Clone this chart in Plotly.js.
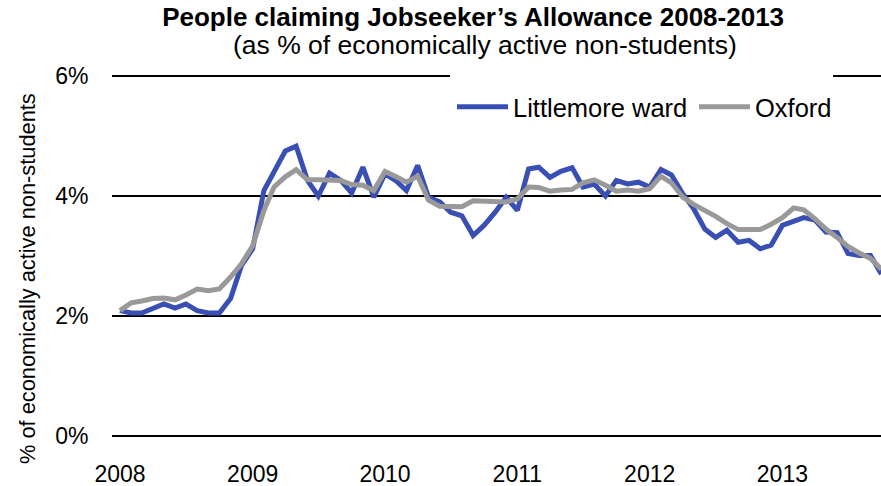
<!DOCTYPE html>
<html>
<head>
<meta charset="utf-8">
<script src="https://cdn.plot.ly/plotly-3.0.1.min.js"></script>
<style>html,body{margin:0;padding:0;background:#fff;}#chart{width:881px;height:486px;}</style>
</head>
<body>
<div id="chart"></div>
<script>
// Monthly series, January 2008 to October 2013
var startYear = 2008;
var monthCount = 70;
var months = [];
for (var i = 0; i < monthCount; i++) {
  var y = startYear + Math.floor(i / 12);
  var m = (i % 12) + 1;
  months.push(y + '-' + (m < 10 ? '0' + m : m) + '-01');
}

var littlemore = [
  2.09, 2.05, 2.05, 2.12, 2.20, 2.13, 2.20, 2.09, 2.05, 2.05, 2.29, 2.84,
  3.12, 4.09, 4.40, 4.75, 4.83, 4.26, 4.00, 4.38, 4.26, 4.05, 4.48, 3.98,
  4.37, 4.25, 4.09, 4.51, 3.98, 3.90, 3.73, 3.67, 3.34, 3.51, 3.73, 3.98,
  3.76, 4.45, 4.48, 4.31, 4.41, 4.47, 4.15, 4.20, 4.00, 4.26, 4.20, 4.23,
  4.15, 4.44, 4.35, 4.04, 3.79, 3.45, 3.31, 3.43, 3.23, 3.26, 3.12, 3.18,
  3.51, 3.57, 3.64, 3.60, 3.40, 3.39, 3.04, 3.01, 3.01, 2.70
];

var oxford = [
  2.09, 2.22, 2.25, 2.29, 2.30, 2.27, 2.35, 2.45, 2.42, 2.45, 2.65, 2.87,
  3.17, 3.76, 4.15, 4.32, 4.44, 4.27, 4.27, 4.27, 4.26, 4.19, 4.18, 4.09,
  4.41, 4.32, 4.23, 4.33, 3.93, 3.83, 3.82, 3.82, 3.92, 3.92, 3.92, 3.90,
  3.95, 4.15, 4.14, 4.08, 4.10, 4.11, 4.22, 4.27, 4.18, 4.08, 4.10, 4.08,
  4.12, 4.33, 4.22, 3.98, 3.86, 3.77, 3.66, 3.54, 3.44, 3.44, 3.44, 3.53,
  3.64, 3.80, 3.77, 3.62, 3.45, 3.31, 3.16, 3.05, 2.96, 2.78
];

var seriesNames = ['Littlemore ward', 'Oxford'];
var yTicks = [0, 2, 4, 6];
var yTickText = ['0%', '2%', '4%', '6%'];

var FONT = 'Liberation Sans, Arial, Helvetica, sans-serif';

var traces = [
  {
    x: months, y: littlemore, name: seriesNames[0], type: 'scatter', mode: 'lines',
    line: {color: '#3A4FB4', width: 5}, legend: 'legend'
  },
  {
    x: months, y: oxford, name: seriesNames[1], type: 'scatter', mode: 'lines',
    line: {color: '#999999', width: 5}, legend: 'legend2'
  }
];

var legendFont = {family: FONT, size: 25.5, color: '#000000'};

// plot area: 0% at y=436px, 6% at y=76px (60 px per percent)
var layout = {
  width: 881, height: 486,
  margin: {l: 112, r: 0, t: 74, b: 48, pad: 0},
  paper_bgcolor: '#ffffff', plot_bgcolor: '#ffffff',
  font: {family: FONT, color: '#000000'},
  showlegend: true,
  title: {
    text: '<b>People claiming Jobseeker\u2019s Allowance 2008-2013</b>',
    font: {family: FONT, size: 26, color: '#000000'},
    x: 0.537, xref: 'container', xanchor: 'center',
    y: 0.984, yref: 'container', yanchor: 'top'
  },
  annotations: [
    {
      text: '(as % of economically active non-students)',
      xref: 'paper', yref: 'paper', x: 0.4847, y: 1.0783,
      xanchor: 'center', yanchor: 'middle', showarrow: false,
      font: {family: FONT, size: 26.5, color: '#000000'}
    },
    {
      text: '% of economically active non-students',
      xref: 'paper', yref: 'paper', x: -0.1105, y: 0.4368,
      xanchor: 'center', yanchor: 'middle', showarrow: false, textangle: -90,
      font: {family: FONT, size: 21.8, color: '#000000'}
    }
  ],
  xaxis: {
    type: 'date',
    range: ['2007-12-10', '2013-09-30'],
    tick0: '2008-01-01', dtick: 'M12', tickformat: '%Y',
    showgrid: false, zeroline: false, showline: false,
    ticks: 'outside', ticklen: 15, tickcolor: 'rgba(0,0,0,0)',
    tickfont: {family: FONT, size: 23, color: '#000000'},
    fixedrange: true
  },
  yaxis: {
    range: [-2 / 60, 6 + 2 / 60],
    tickvals: yTicks, ticktext: yTickText,
    showgrid: true, gridcolor: '#000000', gridwidth: 2,
    zeroline: false, showline: false,
    ticks: 'outside', ticklen: 18, tickcolor: 'rgba(0,0,0,0)',
    tickfont: {family: FONT, size: 23, color: '#000000'},
    fixedrange: true
  },
  legend: {
    orientation: 'h',
    x: 0.4421, xanchor: 'left',
    y: 0.909, yanchor: 'middle',
    bgcolor: '#ffffff', borderwidth: 0,
    itemwidth: 51,
    font: legendFont
  },
  legend2: {
    orientation: 'h',
    x: 0.7568, xanchor: 'left',
    y: 0.909, yanchor: 'middle',
    bgcolor: '#ffffff', borderwidth: 0,
    itemwidth: 51,
    font: legendFont
  },
  shapes: [{
    type: 'rect', xref: 'paper', yref: 'paper',
    x0: 0.4395, x1: 0.9376, y0: 0.975, y1: 1.015,
    fillcolor: '#ffffff', line: {width: 0}, layer: 'above'
  }]
};

Plotly.newPlot('chart', traces, layout, {displayModeBar: false, staticPlot: true});
</script>
</body>
</html>
